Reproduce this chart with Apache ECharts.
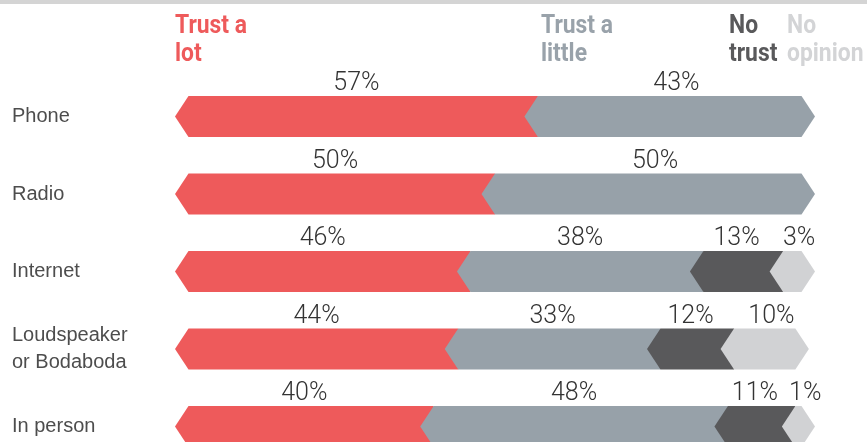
<!DOCTYPE html>
<html>
<head>
<meta charset="utf-8">
<script src="https://cdn.jsdelivr.net/npm/echarts@6/dist/echarts.min.js"></script>
<style>
  html, body { margin: 0; padding: 0; background: #fff; }
  #chart { width: 867px; height: 442px; }
</style>
</head>
<body>
<div id="chart"></div>
<script>
// data
var categories = ['Phone', 'Radio', 'Internet', 'Loudspeaker\nor Bodaboda', 'In person'];
var trustLot = [57, 50, 46, 44, 40];
var trustLittle = [43, 50, 38, 33, 48];
var noTrust = [0, 0, 13, 12, 11];
var noOpinion = [0, 0, 3, 10, 1];
var seriesNames = ['Trust a lot', 'Trust a little', 'No trust', 'No opinion'];
var headerLines = [['Trust a', 'lot'], ['Trust a', 'little'], ['No', 'trust'], ['No', 'opinion']];

var colors = ['#ee5a5b', '#97a1a9', '#59595b', '#d1d2d4'];
var headerColors = ['#ee5a5b', '#99a2aa', '#59595b', '#d3d4d6'];
var headerX = [175, 541, 729, 787];
var allValues = [trustLot, trustLittle, noTrust, noOpinion];

var chart = echarts.init(document.getElementById('chart'));
var HALF = 20.5, NOTCH = 13.5;

function makeSeries(k) {
  var data = [];
  categories.forEach(function (c, i) {
    var start = 0;
    for (var j = 0; j < k; j++) start += allValues[j][i];
    // last visible piece of the row gets the arrow tip
    var last = 1;
    for (var j = k + 1; j < allValues.length; j++) {
      if (allValues[j][i] > 0) last = 0;
    }
    data.push([i, start, allValues[k][i], last]);
  });
  return {
    type: 'custom',
    name: seriesNames[k],
    data: data,
    encode: { x: 1, y: 0 },
    renderItem: function (params, api) {
      var row = api.value(0), start = api.value(1), val = api.value(2);
      if (!val) return null;
      var isLast = api.value(3);
      var a = api.coord([start, row]);
      var b = api.coord([start + val, row]);
      var y = a[1], x0 = a[0], x1 = b[0];
      var pts = [[x0, y], [x0 + NOTCH, y - HALF], [x1 + NOTCH, y - HALF]];
      if (isLast) pts.push([x1 + 2 * NOTCH, y]);
      pts.push([x1 + NOTCH, y + HALF], [x0 + NOTCH, y + HALF]);
      var lx = isLast ? (x0 + x1 + 3 * NOTCH) / 2 : (x0 + x1) / 2 + NOTCH / 2;
      return {
        type: 'group',
        children: [{
          type: 'polygon',
          shape: { points: pts },
          style: { fill: colors[k] }
        }, {
          type: 'text',
          x: lx,
          y: y - HALF - 12,
          style: {
            text: val + '%',
            font: '300 25px Roboto',
            fill: '#333',
            align: 'center',
            verticalAlign: 'middle'
          }
        }]
      };
    }
  };
}

var graphics = [{
  type: 'rect',
  shape: { x: 0, y: 0, width: 867, height: 4 },
  style: { fill: '#d4d4d4' }
}];
headerLines.forEach(function (lines, k) {
  lines.forEach(function (t, li) {
    graphics.push({
      type: 'text',
      x: headerX[k],
      y: 26 + li * 28,
      scaleX: 0.88,
      style: {
        text: t,
        font: 'bold 26px Roboto',
        fill: headerColors[k],
        align: 'left',
        verticalAlign: 'middle'
      }
    });
  });
});

var option = {
  animation: false,
  grid: { left: 175, width: 613, top: 77.75, height: 387.5, outerBoundsMode: 'none' },
  xAxis: { type: 'value', min: 0, max: 100, show: false },
  yAxis: {
    type: 'category',
    data: categories,
    inverse: true,
    axisLine: { show: false },
    axisTick: { show: false },
    splitLine: { show: false },
    axisLabel: {
      align: 'left',
      margin: 163,
      color: '#4d4d4d',
      fontFamily: 'Liberation Sans',
      fontSize: 20,
      lineHeight: 27
    }
  },
  graphic: graphics,
  series: [0, 1, 2, 3].map(makeSeries)
};

chart.setOption(option);
</script>
</body>
</html>
